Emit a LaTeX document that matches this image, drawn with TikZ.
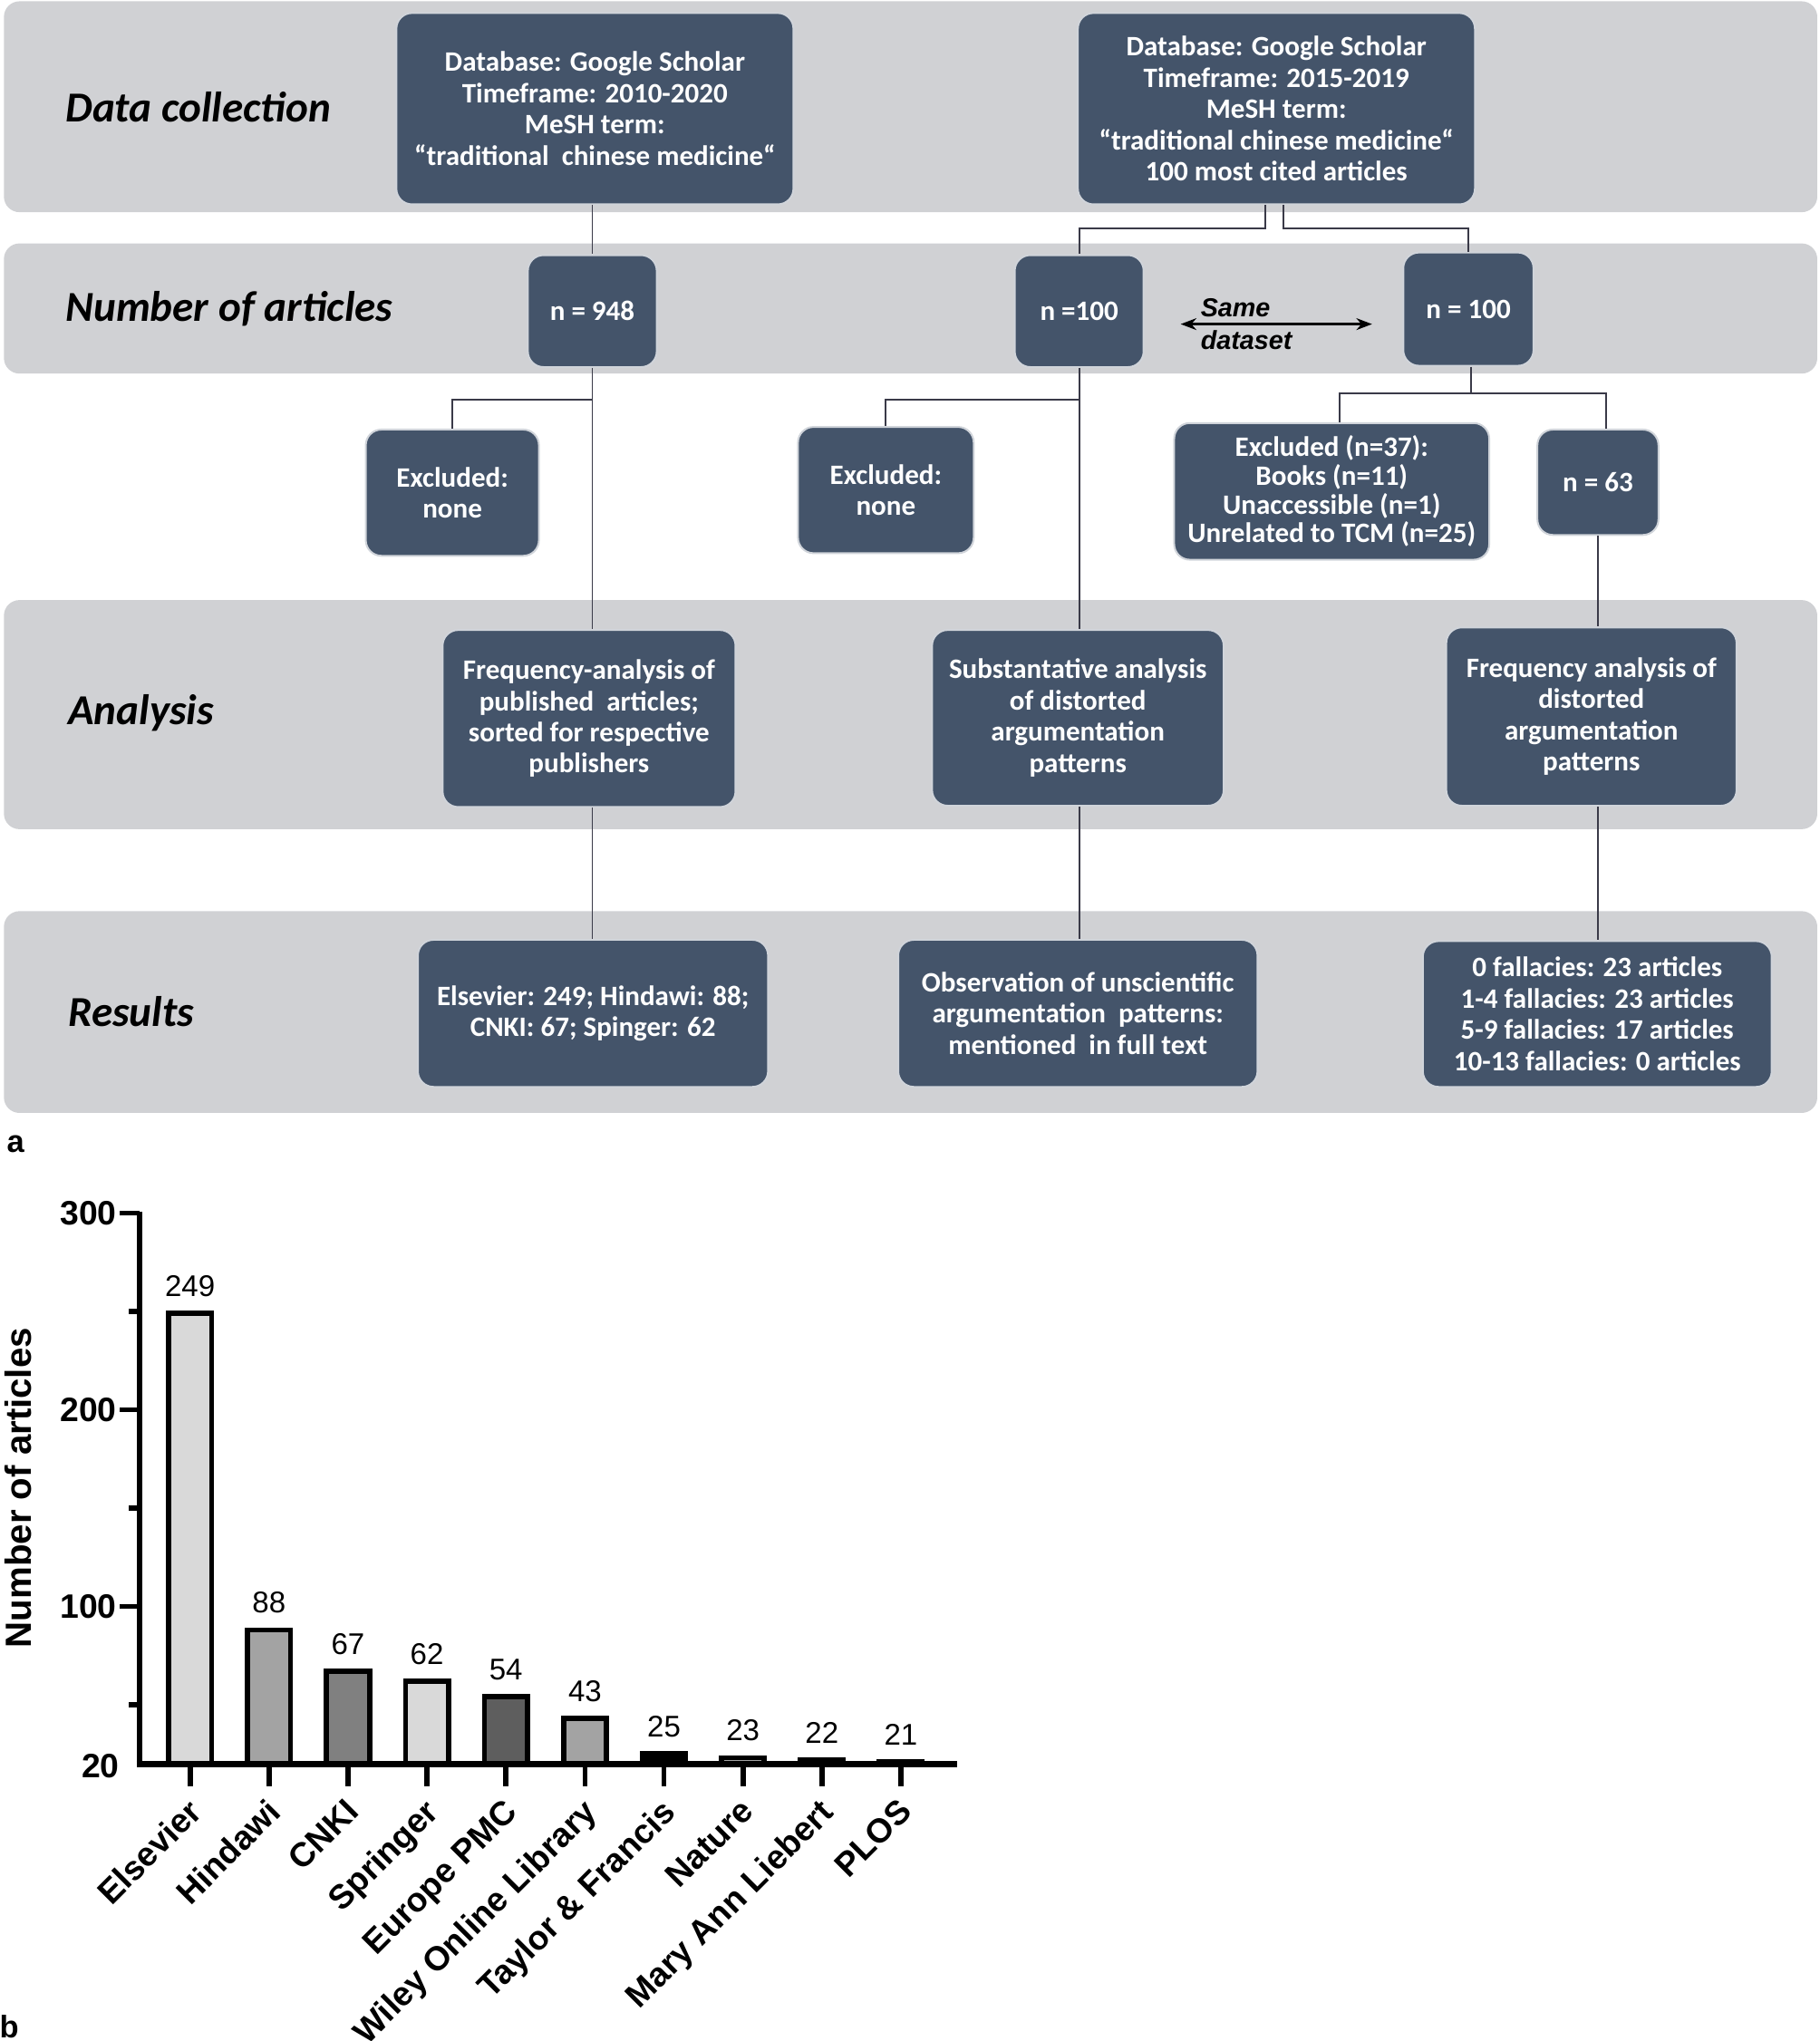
\documentclass[tikz,border=0pt]{standalone}
\usepackage{fontspec}
\setmainfont{Carlito}
\newfontfamily\arialf{Liberation Sans}
\usetikzlibrary{arrows.meta}
\definecolor{bandc}{HTML}{D0D1D4}
\definecolor{boxc}{HTML}{44546A}
\definecolor{linec}{HTML}{3A3A48}
\definecolor{barL}{HTML}{D9D9D9}
\definecolor{barM}{HTML}{A3A3A3}
\definecolor{barC}{HTML}{808080}
\definecolor{barD}{HTML}{5E5E5E}
\begin{document}
\begin{tikzpicture}[x=0.5pt,y=-0.5pt,
  band/.style={fill=bandc, rounded corners=6pt},
  flow/.style={rectangle, rounded corners=6pt, fill=boxc, draw=white!75!boxc, line width=0.7pt,
    text=white, font=\bfseries\fontsize{10.8}{12}\selectfont, align=center, inner sep=1pt},
  rowlabel/.style={anchor=west, inner sep=0pt, font=\bfseries\itshape\fontsize{16.4}{18}\selectfont},
  conn/.style={draw=linec, line width=0.65pt},
  sdtext/.style={inner sep=0pt, anchor=west, font=\arialf\bfseries\itshape\fontsize{10}{12}\selectfont},
  barbox/.style={draw=black, line width=2pt},
  axisline/.style={draw=black, line width=2pt},
  vallab/.style={inner sep=0pt, font=\arialf\fontsize{11.5}{13}\selectfont},
  ticklab/.style={anchor=east, inner sep=0pt, font=\arialf\bfseries\fontsize{13}{15}\selectfont},
  xlab/.style={rotate=45, anchor=north east, inner sep=0pt, font=\arialf\bfseries\fontsize{13}{15}\selectfont},
  panel/.style={inner sep=0pt, font=\arialf\bfseries\fontsize{12}{14}\selectfont}
]
\useasboundingbox (0,0) rectangle (1398,1568);

% bands
\path[band] (3,1) rectangle (1396,163);
\path[band] (3,187) rectangle (1396,287);
\path[band] (3,461) rectangle (1396,637);
\path[band] (3,700) rectangle (1396,855);

% row labels
\node[rowlabel] (lDC) at (50,82) {Data collection};
\node[rowlabel] (lNA) at (50,237) {Number of articles};
\node[rowlabel] (lAN) at (52,548) {Analysis};
\node[rowlabel] (lRE) at (52,777) {Results};

% boxes
\node[flow, minimum width=152.5pt, minimum height=73.5pt] (A1) at (457,83.5)
  {Database: Google Scholar\\Timeframe: 2010-2020\\MeSH term:\\“traditional\ \ chinese medicine“};
\node[flow, minimum width=152.5pt, minimum height=73.5pt] (A2) at (980.5,83.5)
  {Database: Google Scholar\\Timeframe: 2015-2019\\MeSH term:\\“traditional chinese medicine“\\100 most cited articles};
\node[flow, minimum width=49.5pt, minimum height=43pt] (N1) at (455,239) {n = 948};
\node[flow, minimum width=49.5pt, minimum height=43pt] (N2) at (829,239) {n =100};
\node[flow, minimum width=50pt, minimum height=43.5pt] (N3) at (1128,237.5) {n = 100};
\node[flow, minimum width=66.5pt, minimum height=48.5pt] (E1) at (347.5,378.5) {Excluded:\\none};
\node[flow, minimum width=67.5pt, minimum height=48.5pt] (E2) at (680.5,376.5) {Excluded:\\none};
\node[flow, minimum width=121pt, minimum height=52.5pt, font=\bfseries\fontsize{10.8}{11}\selectfont] (E3) at (1023,377.5)
  {Excluded (n=37):\\Books (n=11)\\Unaccessible (n=1)\\Unrelated to TCM (n=25)};
\node[flow, minimum width=46.5pt, minimum height=40.5pt] (N63) at (1227.5,370.5) {n = 63};
\node[flow, minimum width=112.5pt, minimum height=68pt] (F1) at (452.5,552)
  {Frequency-analysis of\\published\ \ articles;\\sorted for respective\\publishers};
\node[flow, minimum width=112pt, minimum height=67.5pt] (F2) at (828,551.5)
  {Substantative analysis\\of distorted\\argumentation\\patterns};
\node[flow, minimum width=111.5pt, minimum height=68.5pt] (F3) at (1222.5,550.5)
  {Frequency analysis of\\distorted\\argumentation\\patterns};
\node[flow, minimum width=134.5pt, minimum height=56.5pt] (R1) at (455.5,778.5)
  {Elsevier: 249; Hindawi: 88;\\CNKI: 67; Spinger: 62};
\node[flow, minimum width=138pt, minimum height=56.5pt] (R2) at (828,778.5)
  {Observation of unscientific\\argumentation\ \ patterns:\\mentioned\ \ in full text};
\node[flow, minimum width=134pt, minimum height=56pt] (R3) at (1227,779)
  {0 fallacies: 23 articles\\1-4 fallacies: 23 articles\\5-9 fallacies: 17 articles\\10-13 fallacies: 0 articles};

% connectors column 1
\coordinate (j1) at (455,307);
\draw[conn] (A1.south -| N1.north) -- (N1.north);
\draw[conn] (N1.south) -- (F1.north -| N1.south);
\draw[conn] (j1) -| (E1.north);
\draw[conn] (F1.south -| N1.south) -- (R1.north -| N1.south);
% column 2
\coordinate (j2) at (829,307);
\draw[conn] ([xshift=-4.25pt]A2.south) -- ++(0,18) -| (N2.north);
\draw[conn] ([xshift=2.75pt]A2.south) -- ++(0,18) -| (N3.north);
\draw[conn] (N2.south) -- (F2.north -| N2.south);
\draw[conn] (j2) -| (E2.north);
\draw[conn] (F2.south -| N2.south) -- (R2.north -| N2.south);
% column 3
\coordinate (j3) at (1130,302);
\draw[conn] (N3.south -| j3) -- (j3);
\draw[conn] ([xshift=3pt]E3.north) |- (j3) -| ([xshift=3pt]N63.north);
\draw[conn] (N63.south) -- (F3.north -| N63.south);
\draw[conn] (F3.south -| N63.south) -- (R3.north -| N63.south);

% same dataset
\coordinate (sdl) at (907,249);
\coordinate (sdr) at (1054,249);
\draw[black, line width=1pt, {Stealth[length=6pt,width=4.5pt]}-{Stealth[length=6pt,width=4.5pt]}] (sdl) -- (sdr);
\node[sdtext] (sd1) at (922,236.5) {Same};
\node[sdtext] (sd2) at (922,261) {dataset};

\node[panel] (pa) at (12,879) {a};

% ---------------- bar chart ----------------
\foreach \i/\v/\c/\lab in {0/249/barL/Elsevier,1/88/barM/Hindawi,2/67/barC/CNKI,3/62/barL/Springer,4/54/barD/Europe PMC,5/43/barM/Wiley Online Library,6/25/black/Taylor \& Francis,7/23/barM/Nature,8/22/barM/Mary Ann Liebert,9/21/barM/PLOS}{
  \pgfmathsetmacro\cx{146+\i*60.67}
  \pgfmathsetmacro\ty{1355-(\v-20)*1.5107}
  \draw[barbox, fill=\c] (\cx-16.5,1355) rectangle (\cx+16.5,\ty);
  \node[vallab] (v\i) at (\cx,\ty-21) {\v};
  \draw[axisline] (\cx,1355) -- (\cx,1372);
  \node[xlab] (x\i) at (\cx-3,1380) {\lab};
}
% axes
\draw[axisline] (107,931) -- (107,1356);
\draw[black, line width=2.5pt] (105,1355) -- (735,1355);
\foreach \yv/\yl in {300/300,200/200,100/100}{
  \pgfmathsetmacro\ty{1355-(\yv-20)*1.5107}
  \draw[axisline] (92,\ty) -- (107,\ty);
  \node[ticklab] (t\yv) at (90,\ty) {\yl};
}
\foreach \yv in {250,150,50}{
  \pgfmathsetmacro\ty{1355-(\yv-20)*1.5107}
  \draw[axisline] (99,\ty) -- (107,\ty);
}
\node[ticklab] (t20) at (92,1357) {20};
\node[rotate=90, inner sep=0pt, font=\arialf\bfseries\fontsize{14}{16}\selectfont] (ylab) at (14,1143) {Number of articles};

\node[panel] (pb) at (7,1557) {b};
\end{tikzpicture}
\end{document}
